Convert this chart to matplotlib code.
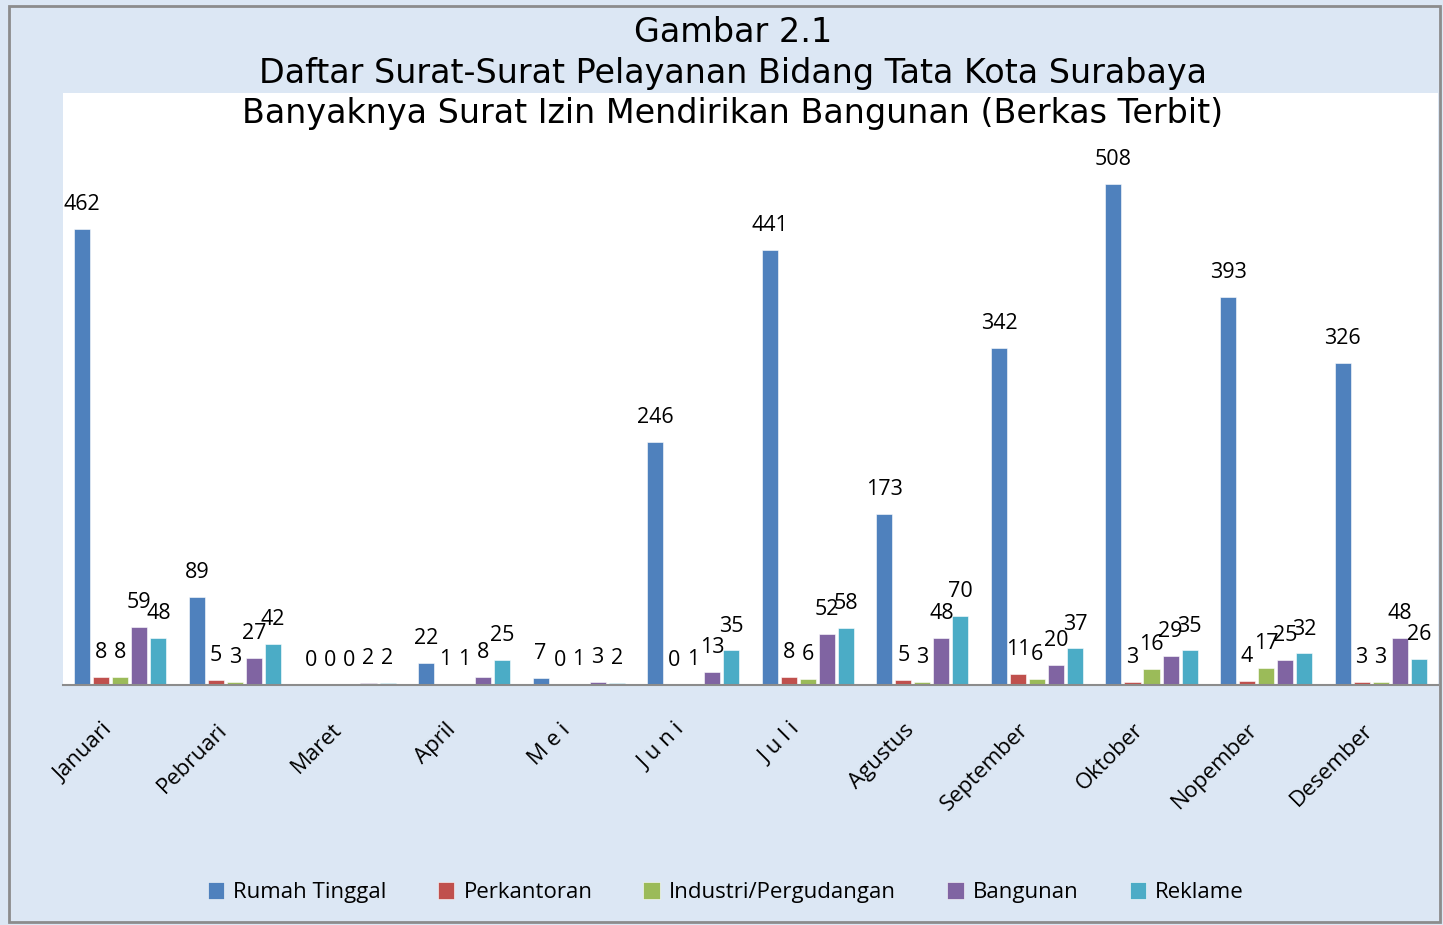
import numpy as np
import matplotlib
matplotlib.use("Agg")
import matplotlib.pyplot as plt
import matplotlib.transforms as mtransforms
from matplotlib.patches import Rectangle

# Data
bulan = ["Januari", "Pebruari", "Maret", "April", "M e i", "J u n i", "J u l i",
         "Agustus", "September", "Oktober", "Nopember", "Desember"]
rumah_tinggal = [462, 89, 0, 22, 7, 246, 441, 173, 342, 508, 393, 326]
perkantoran = [8, 5, 0, 1, 0, 0, 8, 5, 11, 3, 4, 3]
industri = [8, 3, 0, 1, 1, 1, 6, 3, 6, 16, 17, 3]
bangunan = [59, 27, 2, 8, 3, 13, 52, 48, 20, 29, 25, 48]
reklame = [48, 42, 2, 25, 2, 35, 58, 70, 37, 35, 32, 26]

seri = {
    "Rumah Tinggal": rumah_tinggal,
    "Perkantoran": perkantoran,
    "Industri/Pergudangan": industri,
    "Bangunan": bangunan,
    "Reklame": reklame,
}
warna = ["#4f81bd", "#c0504d", "#9bbb59", "#8064a2", "#4bacc6"]
judul = ["Gambar 2.1",
         "Daftar Surat-Surat Pelayanan Bidang Tata Kota Surabaya",
         "Banyaknya Surat Izin Mendirikan Bangunan (Berkas Terbit)"]

huruf = ["Open Sans", "DejaVu Sans"]

fig = plt.figure(figsize=(14.43, 9.25), dpi=100)
fig.patch.set_facecolor("#dce7f4")
fig.add_artist(Rectangle((0.006, 0.003), 0.992, 0.991, transform=fig.transFigure,
                         fill=False, edgecolor="#8c8c8c", linewidth=2))

ax = fig.add_axes([0.0437, 0.2595, 0.9528, 0.64])
ax.set_facecolor("white")

x = np.arange(len(bulan))
step = 0.166
lebar = 0.14
for j, (nama, nilai) in enumerate(seri.items()):
    bars = ax.bar(x + (j - 2) * step, nilai, lebar, color=warna[j], label=nama,
                  edgecolor="white", linewidth=0.4)
    ax.bar_label(bars, padding=10, fontsize=15.5, family=huruf)

ax.set_xlim(-0.5, len(bulan) - 0.5)
ax.set_ylim(0, 600)
ax.set_yticks([])
ax.set_xticks(x)
ax.set_xticklabels(bulan, rotation=45, ha="right", va="center",
                   rotation_mode="anchor", fontsize=16, family=huruf)
ax.tick_params(axis="x", length=0, pad=0)
geser = mtransforms.ScaledTranslation(-8 / 72, -30 / 72, fig.dpi_scale_trans)
for lbl in ax.get_xticklabels():
    lbl.set_transform(lbl.get_transform() + geser)
for s in ["top", "right", "left"]:
    ax.spines[s].set_visible(False)
ax.spines["bottom"].set_color("#8c8c8c")
ax.spines["bottom"].set_linewidth(1.5)

for k, baris in enumerate(judul):
    fig.text(0.508, 1 - (33 + 40.5 * k) / 925, baris, ha="center", va="center",
             fontsize=24, family="DejaVu Sans")

fig.legend(loc="center", bbox_to_anchor=(0.503, 0.035), ncol=5, frameon=False,
           prop={"family": huruf, "size": 16}, handlelength=0.75, handleheight=0.75,
           columnspacing=2.3, handletextpad=0.4)

plt.savefig("out.png", dpi=100, facecolor=fig.get_facecolor())
plt.close()
